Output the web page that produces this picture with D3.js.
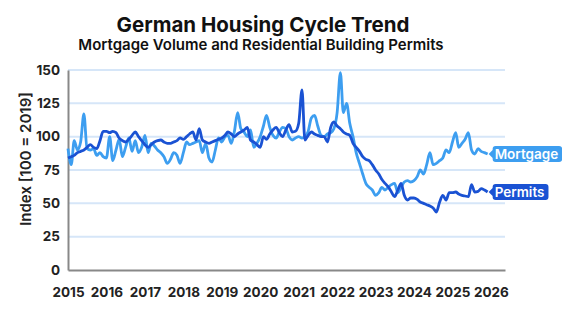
<!DOCTYPE html>
<html>
<head>
<meta charset="utf-8">
<script src="https://cdn.jsdelivr.net/npm/d3@7"></script>
<style>
  body { margin: 0; background: #fff; }
  svg { font-family: Inter, "Noto Sans", sans-serif; }
</style>
</head>
<body>
<script>
// monthly index values, Jan 2015 .. Dec 2025 (100 = 2019)
var startYear = 2015;
var yearTicks = [2015, 2016, 2017, 2018, 2019, 2020, 2021, 2022, 2023, 2024, 2025, 2026];
var yTicks = [0, 25, 50, 75, 100, 125, 150];

var mortgage = [
  91, 79, 97, 90, 96, 117, 91, 90, 91, 86, 88, 85,
  84, 100, 82, 90, 98, 85, 92, 99, 89, 97, 88, 92,
  101, 88, 95, 93, 90, 88, 85, 80, 83, 88, 86, 80,
  88, 96, 94, 95, 96, 97, 88, 95, 84, 81, 90, 99,
  96, 100, 101, 95, 104, 118, 106, 103.5, 100, 105, 92, 95,
  100, 108, 116, 107, 101, 99, 103.5, 107, 106, 100, 97.5, 99,
  100, 99, 100, 104, 114, 116, 108, 101, 100, 102, 103, 106,
  118, 148, 118, 125, 110, 100, 88, 80, 72, 65, 62, 60,
  56, 58, 62, 60, 62, 64, 65, 58, 62, 66, 67, 66,
  67, 70, 75, 72, 79, 88, 79, 80, 82, 84, 90, 88,
  96, 103, 92, 95, 98, 103, 90, 87, 91, 89, 88, 87
];

var permits = [
  84, 85, 86, 88, 89, 90, 92, 94, 92, 91, 97, 104,
  104, 103, 104, 103, 99, 97, 96, 98, 101, 103.5, 100, 97,
  94, 92, 94, 96, 97, 97.5, 96, 95, 95, 96, 97, 99,
  98, 100, 102, 103.5, 97.5, 106, 97.5, 96, 95, 96, 97, 98,
  99, 101, 103.5, 102, 100, 102, 103.5, 105, 107, 97.5, 96, 94,
  92, 100, 98, 102, 105, 107, 103, 100, 105, 109, 103.5, 104,
  110, 135, 97.5, 101, 103.5, 102, 101, 100, 100, 96, 107, 111,
  108, 106, 103.5, 102, 101, 95, 92, 89, 85, 83, 82, 79,
  75, 72, 68, 65, 62.5, 58.5, 55, 60, 65, 56, 52.5, 54,
  54, 53, 51, 50, 49, 48, 46.5, 43.5, 51, 56, 52.5, 58,
  58, 58.5, 57, 56, 55.5, 55, 64, 58.5, 59, 61, 60, 58.5
];

var seriesNames = ["Mortgage", "Permits"];
var seriesColors = ["#3d9ef0", "#1a52d3"];

var width = 562, height = 321;
var plotLeft = 68, plotRight = 505, plotTop = 70, plotBottom = 270;

var svg = d3.select("body").append("svg")
  .attr("width", width)
  .attr("height", height);

var x = d3.scaleTime()
  .domain([new Date(2015, 0, 1), new Date(2026, 4, 15)])
  .range([plotLeft, plotRight]);

var y = d3.scaleLinear()
  .domain([0, 150])
  .range([plotBottom, plotTop]);

function monthDate(i) { return new Date(startYear, i, 1); }

// title
svg.append("text")
  .attr("x", 263).attr("y", 32)
  .attr("text-anchor", "middle")
  .style("font-size", "20.5px").style("font-weight", 700)
  .attr("fill", "#111")
  .text("German Housing Cycle Trend");
svg.append("text")
  .attr("x", 261).attr("y", 50)
  .attr("text-anchor", "middle")
  .style("font-size", "15px").style("font-weight", 600)
  .attr("fill", "#111")
  .text("Mortgage Volume and Residential Building Permits");

// grid
svg.append("g")
  .selectAll("line")
  .data(yTicks.filter(function (d) { return d > 0; }))
  .enter().append("line")
  .attr("x1", plotLeft).attr("x2", plotRight)
  .attr("y1", function (d) { return y(d); })
  .attr("y2", function (d) { return y(d); })
  .attr("stroke", "#d6e6f8")
  .attr("stroke-width", 2);

// axes
var yAxis = svg.append("g")
  .attr("transform", "translate(" + plotLeft + ",0)")
  .call(d3.axisLeft(y).tickValues(yTicks).tickSize(0).tickPadding(8));
var xAxis = svg.append("g")
  .attr("transform", "translate(0," + plotBottom + ")")
  .call(d3.axisBottom(x)
    .tickValues(yearTicks.map(function (d) { return new Date(d, 0, 1); }))
    .tickFormat(d3.timeFormat("%Y"))
    .tickSize(0).tickPadding(17));

[yAxis, xAxis].forEach(function (g) {
  g.select(".domain").attr("stroke", "#888").attr("stroke-width", 2);
  g.selectAll("text")
    .attr("fill", "#222")
    .style("font-size", "13.5px")
    .style("font-weight", 700)
    .style("font-family", "Inter, sans-serif");
});

svg.append("text")
  .attr("transform", "translate(31,159) rotate(-90)")
  .attr("text-anchor", "middle")
  .style("font-size", "15px").style("font-weight", 600)
  .attr("fill", "#222")
  .text("Index [100 = 2019]");

// lines
var line = d3.line()
  .x(function (d, i) { return x(monthDate(i)); })
  .y(function (d) { return y(d); })
  .curve(d3.curveMonotoneX);

var allSeries = [mortgage, permits];

svg.append("g").selectAll("path")
  .data(allSeries)
  .enter().append("path")
  .attr("d", line)
  .attr("fill", "none")
  .attr("stroke", function (d, i) { return seriesColors[i]; })
  .attr("stroke-width", 2.8)
  .attr("stroke-linejoin", "round");

// end labels
var labels = svg.append("g").selectAll("g")
  .data(allSeries)
  .enter().append("g")
  .attr("transform", function (d, i) {
    var n = d.length - 1;
    return "translate(" + (x(monthDate(n)) + 1) + "," + y(d[n]) + ")";
  });

labels.append("text")
  .attr("x", 6).attr("dy", "0.36em")
  .attr("fill", "#fff")
  .style("font-size", "13.5px").style("font-weight", 600)
  .text(function (d, i) { return seriesNames[i]; });

labels.insert("path", "text")
  .attr("fill", function (d, i) { return seriesColors[i]; })
  .attr("d", function () {
    var w = this.parentNode.querySelector("text").getComputedTextLength() + 10;
    var h = 8, r = 3;
    return "M0,0 L4,-4 L4," + (-h + r) + " Q4," + (-h) + " " + (4 + r) + "," + (-h) +
      " L" + (w - r) + "," + (-h) + " Q" + w + "," + (-h) + " " + w + "," + (-h + r) +
      " L" + w + "," + (h - r) + " Q" + w + "," + h + " " + (w - r) + "," + h +
      " L" + (4 + r) + "," + h + " Q4," + h + " 4," + (h - r) + " L4,4 Z";
  });
</script>
</body>
</html>
